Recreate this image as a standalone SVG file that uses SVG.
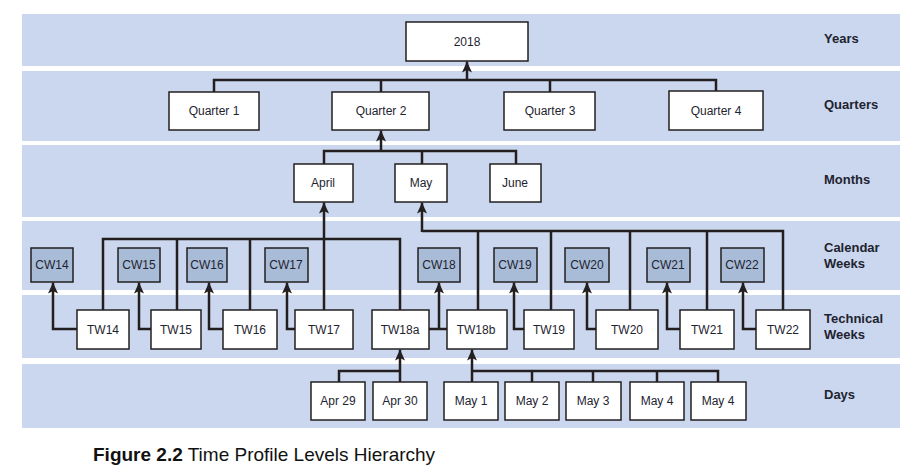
<svg xmlns="http://www.w3.org/2000/svg" width="919" height="476" viewBox="0 0 919 476">
<style>
.band{fill:#cbd7ee}
.box{fill:#fff;stroke:#231f20;stroke-width:1.5}
.cw{fill:#a9bcd7;stroke:#231f20;stroke-width:1.5}
.t{font-family:"Liberation Sans",Arial,sans-serif;font-size:12px;fill:#1e2330;text-anchor:middle}
.lbl{font-family:"Liberation Sans",Arial,sans-serif;font-size:13px;font-weight:bold;fill:#1e2330}
.ln{fill:none;stroke:#231f20;stroke-width:2.5;stroke-linejoin:miter}
.ar{fill:none;stroke:#231f20;stroke-width:2.5;marker-end:url(#ah)}
.cap{font-family:"Liberation Sans",Arial,sans-serif;font-size:19px;fill:#111}
</style>
<defs>
<marker id="ah" markerWidth="11" markerHeight="10" refX="11" refY="5" orient="auto" markerUnits="userSpaceOnUse" viewBox="0 0 11 10">
<path d="M11 5 L0 0 L2.5 5 L0 10 Z" fill="#231f20"/>
</marker>
</defs>
<rect width="919" height="476" fill="#fff"/>
<g id="bands">
<rect class="band" x="22" y="14" width="878" height="52"/>
<rect class="band" x="22" y="71" width="878" height="70"/>
<rect class="band" x="22" y="145" width="878" height="72"/>
<rect class="band" x="22" y="221" width="878" height="69"/>
<rect class="band" x="22" y="295" width="878" height="63"/>
<rect class="band" x="22" y="364" width="878" height="64"/>
</g>
<g id="row-labels">
<text class="lbl" x="824" y="43">Years</text>
<text class="lbl" x="824" y="109">Quarters</text>
<text class="lbl" x="824" y="184">Months</text>
<text class="lbl" x="824" y="252">Calendar</text>
<text class="lbl" x="824" y="268">Weeks</text>
<text class="lbl" x="824" y="323">Technical</text>
<text class="lbl" x="824" y="339">Weeks</text>
<text class="lbl" x="824" y="399">Days</text>
</g>
<g id="connectors">
<path class="ln" d="M214 92 V80 H716 V92 M381 80 V92 M550 80 V92"/>
<path class="ar" d="M467 80 V61.5"/>
<path class="ln" d="M324 164 V151 H516 V164 M422 151 V164"/>
<path class="ar" d="M381 151 V130.5"/>
<path class="ln" d="M103 310 V239 H400 V310 M177 239 V310 M250 239 V310"/>
<path class="ar" d="M324 310 V202.5"/>
<path class="ln" d="M422 231 H783 V310 M478 231 V310 M551 231 V310 M630 231 V310 M707 231 V310"/>
<path class="ar" d="M422 232 V202.5"/>
<path class="ar" d="M77 329 H53 V282.5"/>
<path class="ar" d="M151 329 H139 V282.5"/>
<path class="ar" d="M223 329 H209 V282.5"/>
<path class="ar" d="M295 329 H287 V282.5"/>
<path class="ln" d="M429 329 H447"/>
<path class="ar" d="M439 329 V282.5"/>
<path class="ar" d="M524 329 H514 V282.5"/>
<path class="ar" d="M596 329 H587 V282.5"/>
<path class="ar" d="M680 329 H667 V282.5"/>
<path class="ar" d="M756 329 H743 V282.5"/>
<path class="ln" d="M339 382 V371 H400"/>
<path class="ar" d="M400 382 V349.5"/>
<path class="ln" d="M472 371 H718 V382 M532 371 V382 M593 371 V382 M657 371 V382"/>
<path class="ar" d="M472 382 V349.5"/>
</g>
<g id="n-2018"><rect class="box" x="406" y="22" width="122" height="39"/><text class="t" x="467" y="46">2018</text></g>
<g id="n-q1"><rect class="box" x="169" y="92" width="90" height="38"/><text class="t" x="214" y="115">Quarter 1</text></g>
<g id="n-q2"><rect class="box" x="332" y="92" width="97" height="38"/><text class="t" x="381" y="115">Quarter 2</text></g>
<g id="n-q3"><rect class="box" x="504" y="92" width="91" height="38"/><text class="t" x="550" y="115">Quarter 3</text></g>
<g id="n-q4"><rect class="box" x="669" y="91" width="94" height="39"/><text class="t" x="716" y="115">Quarter 4</text></g>
<g id="n-april"><rect class="box" x="294" y="164" width="59" height="38"/><text class="t" x="323" y="187">April</text></g>
<g id="n-may"><rect class="box" x="395" y="164" width="52" height="38"/><text class="t" x="421" y="187">May</text></g>
<g id="n-june"><rect class="box" x="490" y="164" width="51" height="38"/><text class="t" x="515" y="187">June</text></g>
<g id="n-cw14"><rect class="cw" x="31" y="248" width="42" height="34"/><text class="t" x="52" y="269">CW14</text></g>
<g id="n-cw15"><rect class="cw" x="118" y="248" width="42" height="34"/><text class="t" x="139" y="269">CW15</text></g>
<g id="n-cw16"><rect class="cw" x="187" y="248" width="40" height="34"/><text class="t" x="207" y="269">CW16</text></g>
<g id="n-cw17"><rect class="cw" x="265" y="248" width="43" height="34"/><text class="t" x="286" y="269">CW17</text></g>
<g id="n-cw18"><rect class="cw" x="418" y="248" width="42" height="34"/><text class="t" x="439" y="269">CW18</text></g>
<g id="n-cw19"><rect class="cw" x="494" y="248" width="43" height="34"/><text class="t" x="515" y="269">CW19</text></g>
<g id="n-cw20"><rect class="cw" x="565" y="248" width="44" height="34"/><text class="t" x="587" y="269">CW20</text></g>
<g id="n-cw21"><rect class="cw" x="647" y="248" width="43" height="34"/><text class="t" x="668" y="269">CW21</text></g>
<g id="n-cw22"><rect class="cw" x="721" y="248" width="43" height="34"/><text class="t" x="742" y="269">CW22</text></g>
<g id="n-tw14"><rect class="box" x="77" y="310" width="52" height="39"/><text class="t" x="103" y="334">TW14</text></g>
<g id="n-tw15"><rect class="box" x="151" y="310" width="50" height="39"/><text class="t" x="176" y="334">TW15</text></g>
<g id="n-tw16"><rect class="box" x="223" y="310" width="54" height="39"/><text class="t" x="250" y="334">TW16</text></g>
<g id="n-tw17"><rect class="box" x="295" y="310" width="58" height="39"/><text class="t" x="324" y="334">TW17</text></g>
<g id="n-tw18a"><rect class="box" x="372" y="310" width="57" height="39"/><text class="t" x="400" y="334">TW18a</text></g>
<g id="n-tw18b"><rect class="box" x="447" y="310" width="60" height="39"/><text class="t" x="476" y="334">TW18b</text></g>
<g id="n-tw19"><rect class="box" x="524" y="310" width="50" height="39"/><text class="t" x="549" y="334">TW19</text></g>
<g id="n-tw20"><rect class="box" x="596" y="310" width="62" height="39"/><text class="t" x="627" y="334">TW20</text></g>
<g id="n-tw21"><rect class="box" x="680" y="310" width="54" height="39"/><text class="t" x="707" y="334">TW21</text></g>
<g id="n-tw22"><rect class="box" x="756" y="310" width="54" height="39"/><text class="t" x="783" y="334">TW22</text></g>
<g id="n-apr29"><rect class="box" x="311" y="382" width="54" height="38"/><text class="t" x="338" y="405">Apr 29</text></g>
<g id="n-apr30"><rect class="box" x="373" y="382" width="54" height="38"/><text class="t" x="400" y="405">Apr 30</text></g>
<g id="n-may1"><rect class="box" x="444" y="382" width="54" height="38"/><text class="t" x="471" y="405">May 1</text></g>
<g id="n-may2"><rect class="box" x="505" y="382" width="54" height="38"/><text class="t" x="532" y="405">May 2</text></g>
<g id="n-may3"><rect class="box" x="566" y="382" width="55" height="38"/><text class="t" x="593" y="405">May 3</text></g>
<g id="n-may4"><rect class="box" x="630" y="382" width="54" height="38"/><text class="t" x="657" y="405">May 4</text></g>
<g id="n-may4b"><rect class="box" x="691" y="382" width="55" height="38"/><text class="t" x="718" y="405">May 4</text></g>
<text class="cap" x="93" y="461"><tspan font-weight="bold">Figure 2.2</tspan>  Time Profile Levels Hierarchy</text>
</svg>
